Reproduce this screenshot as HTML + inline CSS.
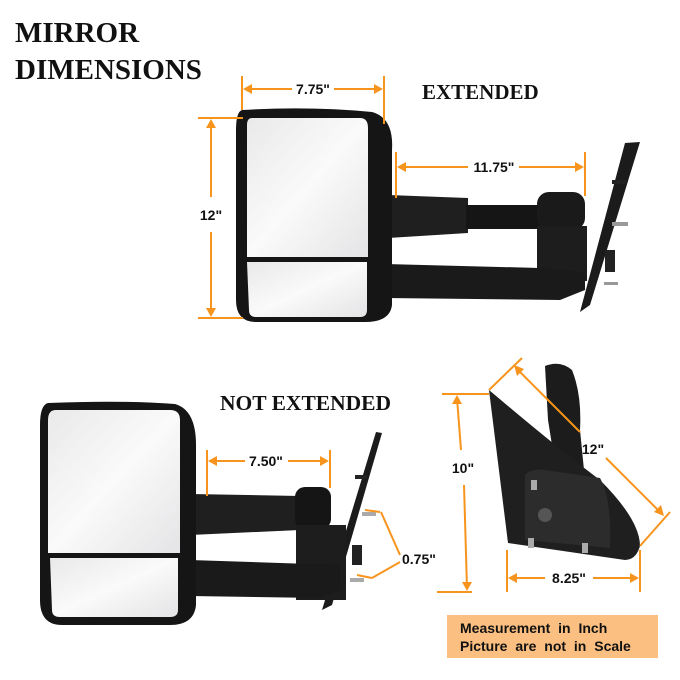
<!DOCTYPE html>
<html><head><meta charset="utf-8"><style>
html,body{margin:0;padding:0;background:#fff;}
svg{display:block}
.t{font-family:"Liberation Serif",serif;font-weight:bold;fill:#111}
.d{font-family:"Liberation Sans",sans-serif;font-weight:bold;fill:#111;font-size:14px}
.o{stroke:#f7941d;stroke-width:2;fill:none}
.a{fill:#f7941d}
</style></head><body>
<svg width="680" height="680" viewBox="0 0 680 680" xmlns="http://www.w3.org/2000/svg">
<defs>
<linearGradient id="gl" x1="0" y1="0" x2="1" y2="1"><stop offset="0" stop-color="#e9e9ea"/><stop offset="0.5" stop-color="#fafafa"/><stop offset="1" stop-color="#e4e4e6"/></linearGradient>
</defs>
<rect width="680" height="680" fill="#fff"/>
<text class="t" x="15" y="42" font-size="29">MIRROR</text>
<text class="t" x="15" y="79" font-size="29">DIMENSIONS</text>
<text class="t" x="422" y="99" font-size="21">EXTENDED</text>
<text class="t" x="220" y="410" font-size="21.5">NOT EXTENDED</text>

<!-- TOP MIRROR -->
<path d="M625,143 L640,142 L590,305 L580,312 Z" fill="#1b1b1b"/>
<rect x="612" y="180" width="14" height="4" fill="#222"/>
<rect x="612" y="222" width="16" height="4" fill="#999"/>
<rect x="605" y="250" width="10" height="22" fill="#222"/>
<rect x="604" y="282" width="14" height="3" fill="#999"/>
<path d="M388,195 L468,198 L468,233 L388,238 Z" fill="#1f1f1f"/>
<rect x="466" y="205" width="75" height="24" fill="#151515"/>
<rect x="537" y="192" width="48" height="38" rx="12" fill="#1a1a1a"/>
<rect x="537" y="226" width="50" height="55" fill="#1d1d1d"/>
<path d="M385,264 L540,268 L585,272 L585,290 L560,300 L385,298 Z" fill="#1a1a1a"/>
<path d="M242,110 Q310,106 372,112 Q394,118 392,150 L392,305 Q390,322 365,322 L256,322 Q236,322 236,300 L236,130 Q236,112 242,110 Z" fill="#151515"/>
<path d="M252,118 L360,118 Q368,118 368,128 L368,257 L247,257 L247,125 Q247,118 252,118 Z" fill="url(#gl)"/>
<path d="M247,262 L367,262 L367,310 Q367,317 360,317 L256,317 Q249,317 249,310 Z" fill="url(#gl)"/>
<!-- top dims -->
<line class="o" x1="242" y1="76" x2="242" y2="110"/><line class="o" x1="384" y1="76" x2="384" y2="124"/>
<line class="o" x1="246" y1="89" x2="292" y2="89"/><line class="o" x1="334" y1="89" x2="380" y2="89"/>
<path class="a" d="M243,89 l9,-5 v10z M383,89 l-9,-5 v10z"/>
<text class="d" x="313" y="94" text-anchor="middle">7.75"</text>
<line class="o" x1="198" y1="118" x2="243" y2="118"/><line class="o" x1="198" y1="318" x2="243" y2="318"/>
<line class="o" x1="211" y1="122" x2="211" y2="197"/><line class="o" x1="211" y1="232" x2="211" y2="314"/>
<path class="a" d="M211,119 l-5,9 h10z M211,317 l-5,-9 h10z"/>
<text class="d" x="211" y="220" text-anchor="middle">12"</text>
<line class="o" x1="396" y1="152" x2="396" y2="198"/><line class="o" x1="585" y1="152" x2="585" y2="196"/>
<line class="o" x1="400" y1="167" x2="468" y2="167"/><line class="o" x1="519" y1="167" x2="581" y2="167"/>
<path class="a" d="M397,167 l9,-5 v10z M584,167 l-9,-5 v10z"/>
<text class="d" x="494" y="172" text-anchor="middle">11.75"</text>

<!-- BOTTOM MIRROR -->
<path d="M376,432 L382,433 L332,605 L322,610 Z" fill="#1b1b1b"/>
<rect x="355" y="475" width="12" height="4" fill="#222"/>
<rect x="362" y="512" width="14" height="4" fill="#aaa"/>
<rect x="352" y="545" width="10" height="20" fill="#222"/>
<rect x="350" y="578" width="14" height="4" fill="#aaa"/>
<path d="M190,494 L300,496 L300,530 L190,535 Z" fill="#1f1f1f"/>
<rect x="295" y="487" width="36" height="42" rx="10" fill="#151515"/>
<rect x="296" y="525" width="50" height="75" fill="#1d1d1d"/>
<path d="M190,560 L340,565 L340,590 L320,598 L190,596 Z" fill="#1a1a1a"/>
<path d="M48,403 Q120,400 175,404 Q196,410 196,445 L196,605 Q194,625 170,625 L62,625 Q40,625 40,600 L40,425 Q40,405 48,403 Z" fill="#151515"/>
<path d="M56,410 L170,410 Q180,410 180,420 L180,553 L48,553 L48,420 Q48,410 56,410 Z" fill="url(#gl)"/>
<path d="M50,558 L178,558 L178,610 Q178,617 170,617 L60,617 Q52,617 52,610 Z" fill="url(#gl)"/>
<line class="o" x1="207" y1="450" x2="207" y2="496"/><line class="o" x1="330" y1="450" x2="330" y2="488"/>
<line class="o" x1="211" y1="461" x2="245" y2="461"/><line class="o" x1="288" y1="461" x2="326" y2="461"/>
<path class="a" d="M208,461 l9,-5 v10z M329,461 l-9,-5 v10z"/>
<text class="d" x="266" y="466" text-anchor="middle">7.50"</text>
<line class="o" x1="365" y1="510" x2="380" y2="512"/><line class="o" x1="381" y1="512" x2="400" y2="555"/>
<line class="o" x1="357" y1="575" x2="372" y2="578"/><line class="o" x1="372" y1="578" x2="400" y2="562"/>
<text class="d" x="402" y="564">0.75"</text>

<!-- RIGHT BACK VIEW -->
<path d="M545,366 Q560,360 572,370 Q582,395 580,430 L584,470 L556,470 L548,420 Z" fill="#1c1c1c"/>
<path d="M489,390 Q560,450 600,480 Q640,520 640,546 Q636,560 625,560 L508,543 Z" fill="#1f1f1f"/>
<path d="M525,475 Q532,468 545,470 L600,478 Q612,500 610,548 L525,540 Z" fill="#2c2c2c"/>
<circle cx="545" cy="515" r="7" fill="#555"/>
<rect x="531" y="480" width="6" height="10" fill="#aaa"/>
<rect x="528" y="538" width="6" height="10" fill="#aaa"/>
<rect x="582" y="543" width="6" height="10" fill="#aaa"/>
<line class="o" x1="442" y1="394" x2="489" y2="394"/><line class="o" x1="437" y1="592" x2="472" y2="592"/>
<line class="o" x1="457" y1="398" x2="461" y2="450"/><line class="o" x1="464" y1="485" x2="467" y2="588"/>
<path class="a" d="M457,395 l-5,9 h10z M467,591 l-5,-9 h10z"/>
<text class="d" x="463" y="473" text-anchor="middle">10"</text>
<line class="o" x1="489" y1="390" x2="522" y2="358"/><line class="o" x1="640" y1="546" x2="670" y2="512"/>
<line class="o" x1="516" y1="368" x2="580" y2="432"/><line class="o" x1="606" y1="458" x2="662" y2="514"/>
<path class="a" d="M514,365 l10,4 l-7,7z M664,516 l-10,-4 l7,-7z"/>
<text class="d" x="593" y="454" text-anchor="middle">12"</text>
<line class="o" x1="507" y1="550" x2="507" y2="592"/><line class="o" x1="640" y1="550" x2="640" y2="592"/>
<line class="o" x1="511" y1="578" x2="545" y2="578"/><line class="o" x1="593" y1="578" x2="636" y2="578"/>
<path class="a" d="M508,578 l9,-5 v10z M639,578 l-9,-5 v10z"/>
<text class="d" x="569" y="583" text-anchor="middle">8.25"</text>

<rect x="447" y="615" width="211" height="43" fill="#fbbf81"/>
<text class="d" x="460" y="633" font-size="15" word-spacing="4">Measurement in Inch</text>
<text class="d" x="460" y="651" font-size="15" word-spacing="4">Picture are not in Scale</text>
</svg>
</body></html>
